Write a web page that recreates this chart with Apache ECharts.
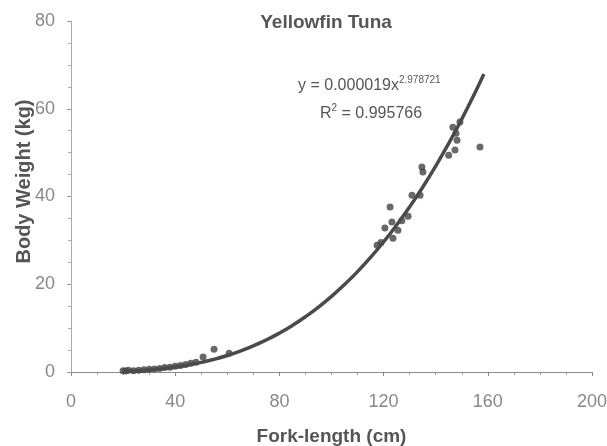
<!DOCTYPE html>
<html><head><meta charset="utf-8">
<script src="https://cdn.jsdelivr.net/npm/echarts@6/dist/echarts.min.js"></script>
<style>html,body{margin:0;padding:0;background:#fff}#c{width:607px;height:446px}</style>
</head><body><div id="c"></div>
<script>
// Observed fork-length (cm) and body weight (kg)
const forkLength = [20, 21, 22, 24, 26, 28, 30, 32, 34, 36, 38, 40, 42, 44, 46, 48, 50.7, 54.9, 60.7,
  117.5, 119, 120.5, 122.5, 123.2, 123.6, 125.5, 127, 129.4, 130.9, 134, 134.7, 135.1,
  145, 146.6, 147.4, 147.8, 148.2, 149.3, 157];
const bodyWeight = [0.3, 0.2, 0.4, 0.3, 0.4, 0.5, 0.6, 0.7, 0.8, 1.0, 1.1, 1.3, 1.5, 1.7, 2.0, 2.2, 3.4, 5.2, 4.3,
  28.9, 29.5, 32.8, 37.6, 34.2, 30.5, 32.3, 34.5, 35.5, 40.3, 40.3, 46.7, 45.6,
  49.4, 55.8, 50.6, 54.4, 52.8, 57.0, 51.3];
// Power-law fit shown on the chart: y = a * x^b
const fitA = 0.000019;
const fitB = 2.978721;
const fitX = [20, 25, 30, 35, 40, 45, 50, 55, 60, 65, 70, 75, 80, 85, 90, 95, 100, 105, 110, 115, 120, 125, 130, 135, 140, 145, 150, 155, 158.5];
const xTicks = [0, 40, 80, 120, 160, 200];
const yTicks = [0, 20, 40, 60, 80];

const pts = forkLength.map((x, i) => [x, bodyWeight[i]]);
const fit = fitX.map(x => [x, fitA * Math.pow(x, fitB)]);

const labelFont = "'Liberation Sans Narrow','Arial Narrow','Liberation Sans',Arial,sans-serif";
const chart = echarts.init(document.getElementById('c'), null, {renderer: 'canvas'});
chart.setOption({
  animation: false,
  backgroundColor: '#fff',
  title: [
    {text: 'Yellowfin Tuna', left: 321, top: 8, textAlign: 'center',
      textStyle: {fontFamily: 'Liberation Sans, Arial', fontWeight: 'bold', fontSize: 19, color: '#555'}},
    {text: 'y = 0.000019x{sup|2.978721}', left: 293, top: 70,
      textStyle: {fontFamily: labelFont, fontWeight: 'normal', fontSize: 16, color: '#555',
        rich: {sup: {fontSize: 10, color: '#555', verticalAlign: 'top', padding: [0, 0, 11, 0], fontFamily: labelFont}}}},
    {text: 'R{sup|2} = 0.995766', left: 315, top: 98,
      textStyle: {fontFamily: labelFont, fontWeight: 'normal', fontSize: 16, color: '#555',
        rich: {sup: {fontSize: 10, color: '#555', padding: [0, 0, 11, 0], fontFamily: labelFont}}}}
  ],
  grid: {left: 71, right: 15, top: 21, bottom: 74, containLabel: false, outerBoundsMode: 'none'},
  xAxis: {
    type: 'value', min: 0, max: 200, interval: 40,
    name: 'Fork-length (cm)', nameLocation: 'middle', nameGap: 55, nameMoveOverlap: false,
    nameTextStyle: {fontFamily: 'Liberation Sans, Arial', fontWeight: 'bold', fontSize: 19, color: '#555'},
    axisLine: {show: true, onZero: false, lineStyle: {color: '#8a8a9a', width: 1}},
    axisTick: {show: true, inside: false, length: 4, lineStyle: {color: '#888'}},
    minorTick: {show: true, splitNumber: 4, length: 3, lineStyle: {color: '#999'}},
    splitLine: {show: false},
    axisLabel: {fontFamily: labelFont, fontSize: 18, color: '#888', margin: 21}
  },
  yAxis: {
    type: 'value', min: 0, max: 80, interval: 20,
    name: 'Body Weight (kg)', nameLocation: 'middle', nameGap: 37, nameMoveOverlap: false,
    nameTextStyle: {fontFamily: 'Liberation Sans, Arial', fontWeight: 'bold', fontSize: 20, color: '#555',
      padding: [0, 0, 0, 30]},
    axisLine: {show: true, lineStyle: {color: '#aaa', width: 1}},
    axisTick: {show: true, inside: false, length: 4, lineStyle: {color: '#999'}},
    minorTick: {show: true, splitNumber: 4, length: 3, lineStyle: {color: '#aaa'}},
    splitLine: {show: false},
    axisLabel: {fontFamily: labelFont, fontSize: 18, color: '#888', margin: 16}
  },
  series: [
    {type: 'scatter', data: pts, symbol: 'circle', symbolSize: 7,
      itemStyle: {color: '#444'}, z: 2},
    {type: 'line', data: fit, smooth: true, showSymbol: false,
      lineStyle: {color: '#4a4a4a', width: 3.5}, z: 3}
  ]
});
</script></body></html>
